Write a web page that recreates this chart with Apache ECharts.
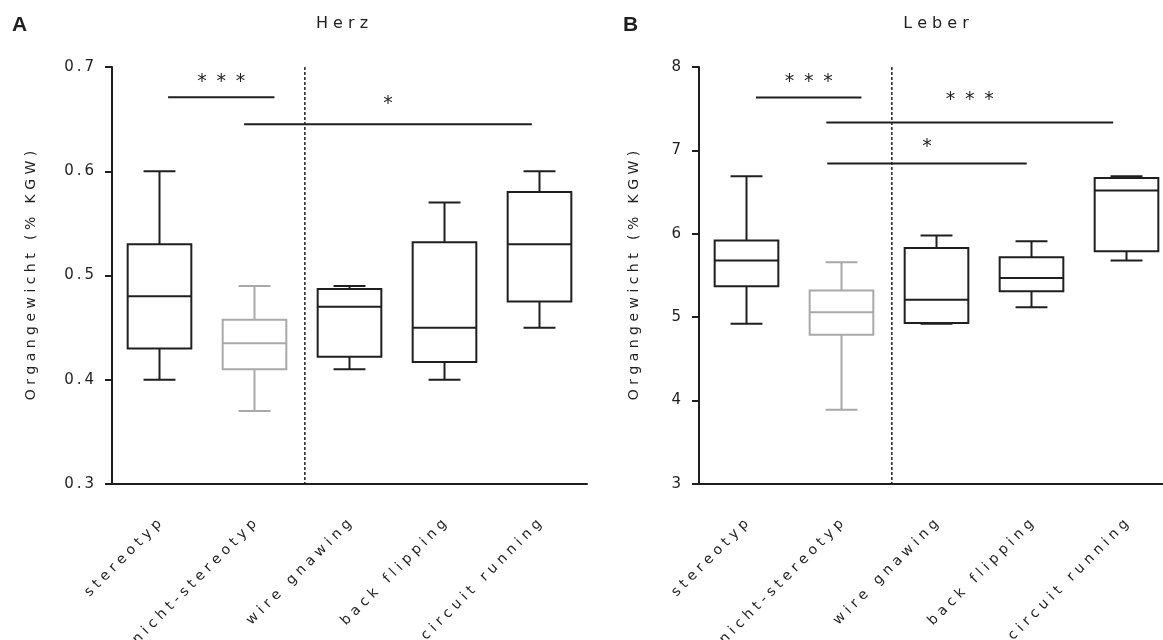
<!DOCTYPE html>
<html lang="de">
  <head>
    <meta charset="UTF-8" />
    <title>Organgewicht - Herz / Leber</title>
    <script src="https://cdn.jsdelivr.net/npm/echarts@6/dist/echarts.min.js"></script>
    <style>
      html, body { margin: 0; padding: 0; background: #fff; }
    </style>
  </head>
  <body>
    <div id="main" style="width: 1163px; height: 640px"></div>

    <script type="text/javascript">
      const categories = ["stereotyp", "nicht-stereotyp", "wire gnawing", "back flipping", "circuit running"];

      // each box: [min, q1, median, q3, max]
      const herzBoxes = [
        [0.40, 0.43, 0.48, 0.53, 0.60],
        [0.37, 0.41, 0.435, 0.4575, 0.49],
        [0.41, 0.422, 0.47, 0.487, 0.49],
        [0.40, 0.417, 0.45, 0.532, 0.57],
        [0.45, 0.475, 0.53, 0.58, 0.60],
      ];
      const leberBoxes = [
        [4.92, 5.37, 5.68, 5.92, 6.69],
        [3.89, 4.79, 5.06, 5.32, 5.66],
        [4.92, 4.93, 5.21, 5.83, 5.98],
        [5.12, 5.31, 5.47, 5.72, 5.91],
        [5.68, 5.79, 6.52, 6.67, 6.69],
      ];

      const herzTicks = [0.3, 0.4, 0.5, 0.6, 0.7];
      const leberTicks = [3, 4, 5, 6, 7, 8];

      // significance bars: [from, to] in category units, bar value, star value
      const herzBars = [
        [0.09, 1.21, 0.671, 0.6825],
        [0.89, 3.92, 0.645, 0.661],
      ];
      const herzStars = ["***", "*"];
      const leberBars = [
        [0.10, 1.21, 7.634, 7.783],
        [0.84, 3.86, 7.336, 7.565],
        [0.85, 2.95, 6.844, 7.004],
      ];
      const leberStars = ["***", "***", "*"];

      // dashed divider between the two groups, in category units
      const dividerAt = 1.53;

      const INK = "#1f1f1f";
      const GREY = "#a9a9a9";
      const boxColours = [INK, GREY, INK, INK, INK];
      const FONT = "DejaVu Sans";

      const spaced = (s, sep) => String(s).split("").join(sep);

      function renderBox(params, api) {
        const i = api.value(0);
        const band = api.size([1, 0])[0];
        const x = api.coord([i, api.value(3)])[0];
        const y = (k) => api.coord([i, api.value(k)])[1];
        const half = band * 0.335;
        const cap = band * 0.168;
        const stroke = boxColours[params.dataIndex];
        const st = { stroke: stroke, lineWidth: 2, fill: null };
        const line = (x1, y1, x2, y2) => ({ type: "line", shape: { x1, y1, x2, y2 }, style: st });
        return {
          type: "group",
          children: [
            line(x, y(5), x, y(4)),
            line(x - cap, y(5), x + cap, y(5)),
            line(x, y(1), x, y(2)),
            line(x - cap, y(1), x + cap, y(1)),
            {
              type: "rect",
              shape: { x: x - half, y: y(4), width: 2 * half, height: y(2) - y(4) },
              style: { stroke: stroke, lineWidth: 2, fill: "#fff" },
            },
            line(x - half, y(3), x + half, y(3)),
          ],
        };
      }

      function barRenderer(stars) {
        return function (params, api) {
          const band = api.size([1, 0])[0];
          const base = api.coord([0, api.value(1)]);
          const yStar = api.coord([0, api.value(2)])[1];
          const from = base[0] + api.value(3) * band;
          const to = base[0] + api.value(4) * band;
          return {
            type: "group",
            children: [
              { type: "line", shape: { x1: from, y1: base[1], x2: to, y2: base[1] }, style: { stroke: INK, lineWidth: 2 } },
              {
                type: "text",
                x: (from + to) / 2,
                y: yStar + 6,
                style: {
                  text: spaced(stars[params.dataIndex], " \u2009"),
                  font: "19px '" + FONT + "'",
                  fill: INK,
                  align: "center",
                  textAlign: "center",
                  verticalAlign: "bottom",
                  textVerticalAlign: "bottom",
                },
              },
            ],
          };
        };
      }

      function renderDivider(params, api) {
        const band = api.size([1, 0])[0];
        const top = api.coord([0, api.value(2)]);
        const bottom = api.coord([0, api.value(1)]);
        const x = top[0] + api.value(3) * band;
        return {
          type: "line",
          shape: { x1: x, y1: top[1], x2: x, y2: bottom[1] },
          style: { stroke: INK, lineWidth: 1.5, lineDash: [3, 2] },
        };
      }

      const axisText = { color: INK, fontFamily: FONT };

      function xAxisFor(gridIndex) {
        return {
          type: "category",
          gridIndex: gridIndex,
          data: categories,
          axisLine: { onZero: false, lineStyle: { color: INK, width: 2 } },
          axisTick: { alignWithLabel: true, length: 10, lineStyle: { color: INK, width: 2 } },
          axisLabel: Object.assign({}, axisText, {
            interval: 0,
            rotate: 45,
            margin: 38,
            fontSize: 14,
            formatter: (v) => spaced(v, " "),
          }),
        };
      }

      function yAxisFor(gridIndex, ticks, decimals, nameGap) {
        return {
          type: "value",
          gridIndex: gridIndex,
          min: ticks[0],
          max: ticks[ticks.length - 1],
          interval: decimals ? 0.1 : 1,
          splitLine: { show: false },
          axisLine: { show: true, lineStyle: { color: INK, width: 2 } },
          axisTick: { show: true, length: 7, lineStyle: { color: INK, width: 2 } },
          axisLabel: Object.assign({}, axisText, {
            fontSize: 15,
            margin: 18,
            formatter: (v) => spaced(v.toFixed(decimals), "\u2009"),
          }),
          name: spaced("Organgewicht (% KGW)", " "),
          nameLocation: "middle",
          nameRotate: 90,
          nameGap: nameGap,
          nameTextStyle: Object.assign({}, axisText, { fontSize: 14 }),
        };
      }

      const boxData = (boxes) => boxes.map((b, i) => [i].concat(b));
      const barData = (bars) => bars.map((b) => [0, b[2], b[3], b[0], b[1]]);

      function seriesFor(idx, boxes, bars, stars, ticks) {
        return [
          {
            type: "custom",
            xAxisIndex: idx,
            yAxisIndex: idx,
            renderItem: renderDivider,
            encode: { x: 0, y: [1, 2] },
            data: [[0, ticks[0], ticks[ticks.length - 1], dividerAt]],
            silent: true,
          },
          {
            type: "custom",
            xAxisIndex: idx,
            yAxisIndex: idx,
            renderItem: renderBox,
            encode: { x: 0, y: [1, 2, 3, 4, 5] },
            data: boxData(boxes),
          },
          {
            type: "custom",
            xAxisIndex: idx,
            yAxisIndex: idx,
            renderItem: barRenderer(stars),
            encode: { x: 0, y: [1, 2] },
            data: barData(bars),
            silent: true,
          },
        ];
      }

      function label(text, x, y, font, align) {
        return {
          type: "text",
          x: x,
          y: y,
          style: {
            text: text,
            font: font,
            fill: INK,
            align: align,
            textAlign: align,
            verticalAlign: "middle",
            textVerticalAlign: "middle",
          },
        };
      }

      const chart = echarts.init(document.getElementById("main"));

      chart.setOption({
        animation: false,
        grid: [
          { left: 112, top: 67, width: 475, height: 417, outerBoundsMode: "none", containLabel: false },
          { left: 699, top: 67, width: 475, height: 417, outerBoundsMode: "none", containLabel: false },
        ],
        xAxis: [xAxisFor(0), xAxisFor(1)],
        yAxis: [yAxisFor(0, herzTicks, 1, 74), yAxisFor(1, leberTicks, 0, 58)],
        series: seriesFor(0, herzBoxes, herzBars, herzStars, herzTicks).concat(
          seriesFor(1, leberBoxes, leberBars, leberStars, leberTicks)
        ),
        graphic: [
          label("A", 12, 25, "bold 21px 'Liberation Sans'", "left"),
          label("B", 623, 25, "bold 21px 'Liberation Sans'", "left"),
          label(spaced("Herz", " "), 342, 24, "16px '" + FONT + "'", "center"),
          label(spaced("Leber", " "), 936, 24, "16px '" + FONT + "'", "center"),
        ],
      });
    </script>
  </body>
</html>
